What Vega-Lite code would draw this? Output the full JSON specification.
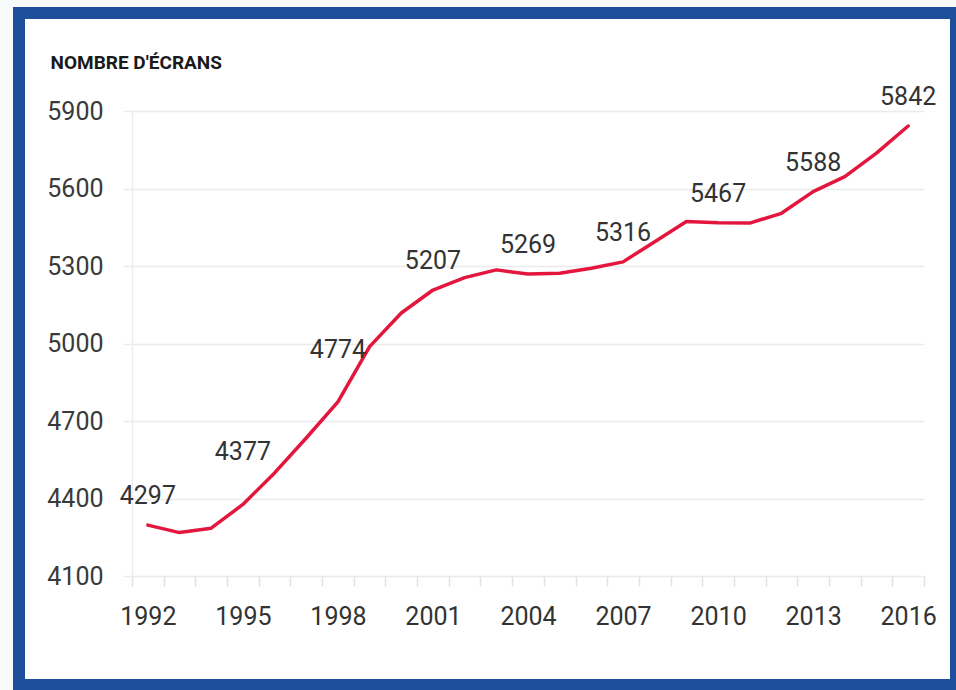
{
  "$schema": "https://vega.github.io/schema/vega-lite/v6.json",
  "width": 937,
  "height": 672,
  "autosize": {"type": "none"},
  "padding": {"left": 19, "top": 13, "right": 0, "bottom": 5},
  "background": "#f8f9fb",
  "config": {
    "view": {"fill": "#ffffff", "stroke": "#1d4f9c", "strokeWidth": 12},
    "font": "Roboto"
  },
  "data": {
    "values": [
      {"year": 1992, "ecrans": 4297},
      {"year": 1993, "ecrans": 4268},
      {"year": 1994, "ecrans": 4285},
      {"year": 1995, "ecrans": 4377},
      {"year": 1996, "ecrans": 4499},
      {"year": 1997, "ecrans": 4634},
      {"year": 1998, "ecrans": 4774},
      {"year": 1999, "ecrans": 4988},
      {"year": 2000, "ecrans": 5118},
      {"year": 2001, "ecrans": 5207},
      {"year": 2002, "ecrans": 5255},
      {"year": 2003, "ecrans": 5285},
      {"year": 2004, "ecrans": 5269},
      {"year": 2005, "ecrans": 5272},
      {"year": 2006, "ecrans": 5291},
      {"year": 2007, "ecrans": 5316},
      {"year": 2008, "ecrans": 5394},
      {"year": 2009, "ecrans": 5472},
      {"year": 2010, "ecrans": 5467},
      {"year": 2011, "ecrans": 5466},
      {"year": 2012, "ecrans": 5504},
      {"year": 2013, "ecrans": 5588},
      {"year": 2014, "ecrans": 5646},
      {"year": 2015, "ecrans": 5737},
      {"year": 2016, "ecrans": 5842}
    ]
  },
  "encoding": {
    "x": {
      "field": "year",
      "type": "quantitative",
      "scale": {"domain": [1991.5, 2016.5], "range": [113, 905], "nice": false, "zero": false},
      "axis": {
        "values": [1991.5, 1992.5, 1993.5, 1994.5, 1995.5, 1996.5, 1997.5, 1998.5, 1999.5, 2000.5, 2001.5, 2002.5, 2003.5, 2004.5, 2005.5, 2006.5, 2007.5, 2008.5, 2009.5, 2010.5, 2011.5, 2012.5, 2013.5, 2014.5, 2015.5, 2016.5],
        "offset": -109,
        "grid": false,
        "domain": false,
        "ticks": true,
        "tickSize": 10,
        "tickColor": "#e2e2e2",
        "tickWidth": 1.5,
        "labelExpr": "(datum.value + 0.5 - 1992) % 3 == 0 ? '' + (datum.value + 0.5) : ''",
        "labelOffset": 15.84,
        "labelPadding": 18,
        "labelFontSize": 25,
        "labelFont": "Roboto",
        "labelColor": "#333333",
        "labelFlush": false,
        "labelOverlap": false,
        "labelBound": false,
        "title": null
      }
    },
    "y": {
      "field": "ecrans",
      "type": "quantitative",
      "scale": {"domain": [4100, 5900], "range": [563, 98], "nice": false, "zero": false},
      "axis": {
        "values": [4100, 4400, 4700, 5000, 5300, 5600, 5900],
        "format": "d",
        "offset": -113,
        "grid": true,
        "gridColor": "#ebebeb",
        "gridWidth": 1.5,
        "domain": true,
        "domainColor": "#eeeeee",
        "domainWidth": 1.5,
        "ticks": true,
        "tickSize": 9,
        "tickColor": "#ebebeb",
        "tickWidth": 1.5,
        "labelPadding": 20,
        "labelFontSize": 25,
        "labelFont": "Roboto",
        "labelColor": "#3a3a3a",
        "title": "NOMBRE D'ÉCRANS",
        "titleAngle": 0,
        "titleAlign": "left",
        "titleBaseline": "middle",
        "titleX": -82,
        "titleY": 49,
        "titleFont": "Roboto",
        "titleFontSize": 19,
        "titleFontWeight": "bold",
        "titleColor": "#1a1a1a"
      }
    }
  },
  "layer": [
    {
      "mark": {"type": "line", "color": "#e3173e", "strokeWidth": 3.5, "strokeJoin": "round", "strokeCap": "round"}
    },
    {
      "transform": [{"filter": "datum.year == 1995 || datum.year == 1998"}],
      "mark": {"type": "text", "dy": -52, "fontSize": 25, "font": "Roboto", "color": "#333333", "align": "center", "baseline": "middle"},
      "encoding": {"text": {"field": "ecrans", "type": "quantitative", "format": "d"}}
    },
    {
      "transform": [{"filter": "(datum.year - 1992) % 3 == 0 && datum.year != 1995 && datum.year != 1998"}],
      "mark": {"type": "text", "dy": -29, "fontSize": 25, "font": "Roboto", "color": "#333333", "align": "center", "baseline": "middle"},
      "encoding": {"text": {"field": "ecrans", "type": "quantitative", "format": "d"}}
    }
  ]
}
